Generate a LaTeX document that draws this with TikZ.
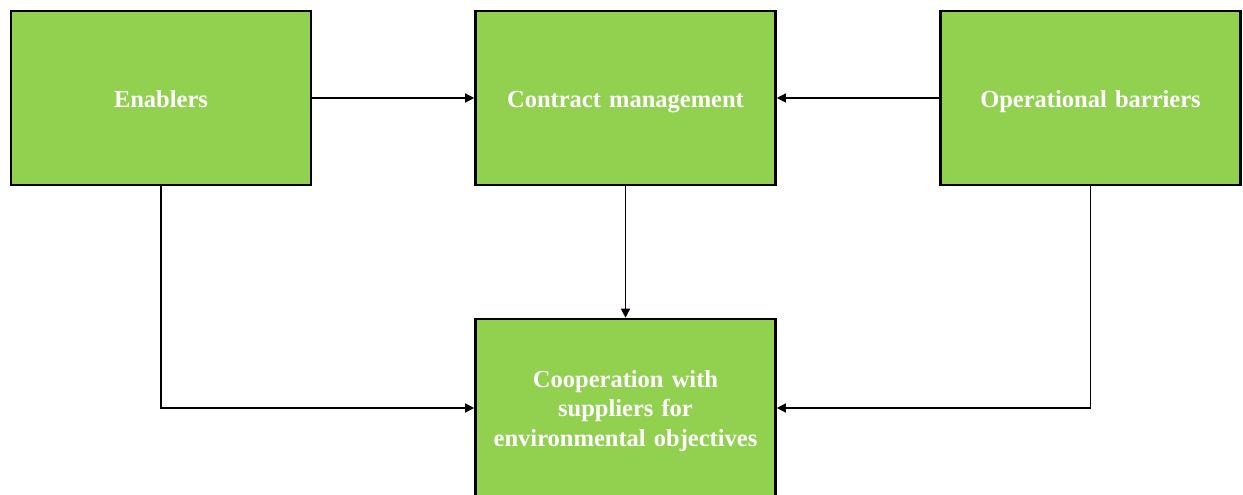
\documentclass[tikz,border=0pt]{standalone}
\usepackage{fontspec}
\setmainfont{Liberation Serif}
\usetikzlibrary{arrows.meta}
\definecolor{boxgreen}{HTML}{92D050}
\begin{document}
\begin{tikzpicture}[x=1pt,y=-1pt,
  block/.style={draw=black, line width=2.6pt, fill=boxgreen, minimum width=300pt, minimum height=174pt,
    inner sep=0pt},
  label/.style={inner sep=0pt, text=white, align=center, text width=290pt,
    font=\fontsize{24.5}{29.3}\selectfont\bfseries},
  oneline/.style={text height=22pt, text depth=4pt},
  link/.style={line width=1.3pt, -{Triangle[length=9pt,width=9pt]}}]
  \useasboundingbox (0,0) rectangle (1243,495);
  \node[block, label, oneline] (en) at (161,98) {Enablers};
  \node[block, label, oneline] (cm) at (625.5,98) {Contract management};
  \node[block, label, oneline] (ob) at (1090.5,98) {Operational barriers};
  % the lower box runs down past the page edge
  \node[block, minimum height=178pt] (co) at (625.5,408) {};
  \node[label] (cotext) at ([yshift=-3pt]co.center) {Cooperation with\\suppliers for\\environmental objectives};
  \draw[link] (en.east) -- (cm.west);
  \draw[link] (ob.west) -- (cm.east);
  \draw[link] (cm.south) -- (co.north);
  \draw[link] (en.south) |- (co.west);
  \draw[link] (ob.south) |- (co.east);
\end{tikzpicture}
\end{document}
